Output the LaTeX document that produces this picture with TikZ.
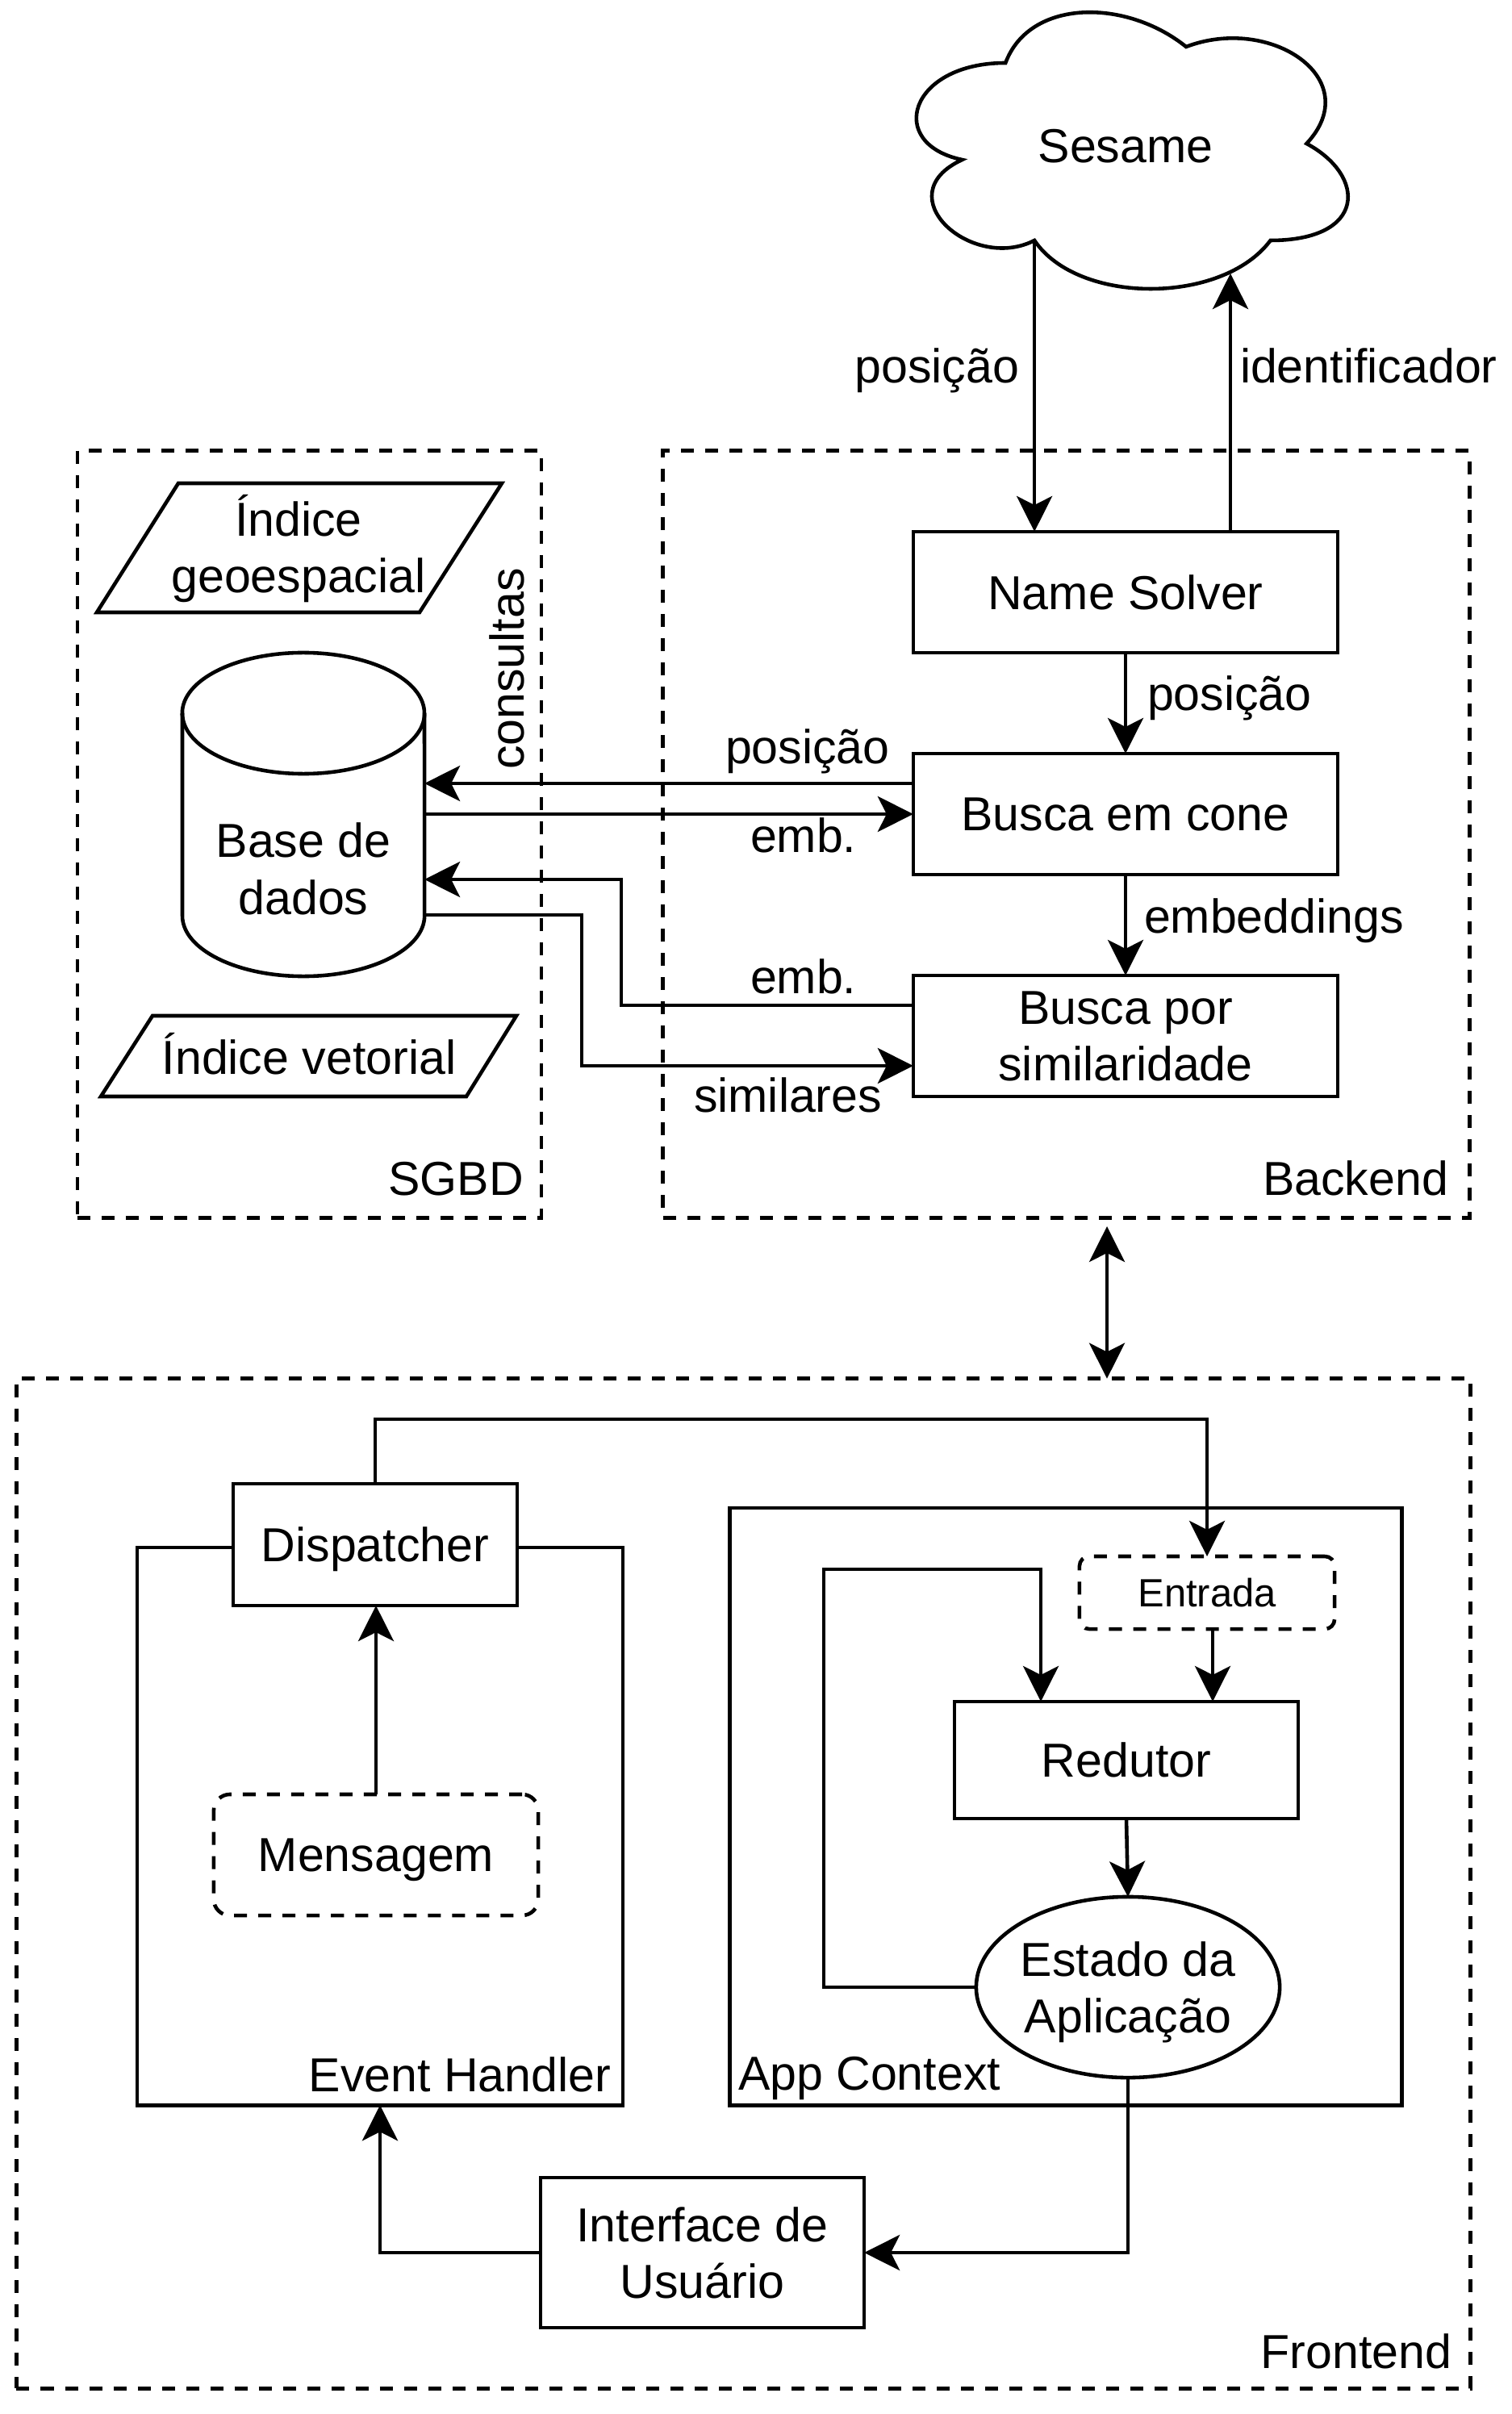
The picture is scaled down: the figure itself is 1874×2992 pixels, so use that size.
\documentclass[tikz,border=0pt]{standalone}
\usepackage{fontspec}
\setmainfont{Liberation Sans}
\usetikzlibrary{arrows.meta,shapes.geometric}
\begin{document}
\begin{tikzpicture}[x=0.01cm,y=-0.01cm,line width=1.3pt,
  every node/.style={inner sep=0pt,outer sep=0pt,font=\fontsize{16.8}{20}\selectfont},
  ctip/.tip={Stealth[length=0.44cm,width=0.44cm,inset=0.11cm]},
  arr/.style={-ctip},
  darr/.style={ctip-ctip},
  dsh/.style={dash pattern=on 0.16cm off 0.14cm},
  rbox/.style 2 args={draw,fill=white,rectangle,minimum width=#1cm,minimum height=#2cm,text depth=0pt,align=center},
  cont/.style 2 args={draw,rectangle,minimum width=#1cm,minimum height=#2cm}
]
\useasboundingbox (0,0) rectangle (1874,2992);

% containers
\node[cont={9.99}{9.5},dsh] (backend) at (1321.5,1034) {};
\node[cont={5.75}{9.5},dsh] (sgbd) at (383.5,1034) {};
\node[cont={18.01}{12.51},dsh] (frontend) at (921.5,2334.5) {};
\node[cont={6.02}{6.91}] (eh) at (471,2263.5) {};
\node[cont={8.32}{7.4}] (appctx) at (1321,2239) {};

% cloud
\draw (1246.25,78) .. controls (1126.85,78) and (1097,178) .. (1192.5,198)
  .. controls (1097,242) and (1204.5,338) .. (1282.1,298)
  .. controls (1335.8,378) and (1514.9,378) .. (1574.6,298)
  .. controls (1694,298) and (1694,218) .. (1619.4,178)
  .. controls (1694,98) and (1574.6,18) .. (1470.1,58)
  .. controls (1395.5,-2) and (1276.1,-2) .. (1246.25,78) -- cycle;
\node (cloud) at (1395,181) {Sesame};
\coordinate (cb1) at (1282.1,298);
\coordinate (cup) at (1525,339);

% backend boxes
\node[rbox={5.26}{1.5}] (ns) at (1395,734) {Name Solver};
\node[rbox={5.26}{1.5}] (bc) at (1395,1009) {Busca em cone};
\node[rbox={5.26}{1.5}] (sim) at (1395,1284) {Busca por\\similaridade};

% SGBD content
\draw (221,599) -- (622,599) -- (520,759) -- (120,759) -- cycle;
\node[align=center] (igeo) at (370,680) {Índice\\geoespacial};
\draw (189,1259) -- (640,1259) -- (578,1359) -- (125,1359) -- cycle;
\node[anchor=base] (ivet) at (383,1331) {Índice vetorial};
\draw[fill=white] (226,884) -- (226,1135) arc[start angle=180,end angle=360,x radius=1.5cm,y radius=0.75cm]
  -- (526,884) arc[start angle=0,end angle=180,x radius=1.5cm,y radius=0.75cm] -- cycle;
\draw (226,884) arc[start angle=180,end angle=360,x radius=1.5cm,y radius=0.75cm];
\node[minimum width=3cm,minimum height=4.01cm] (db) at (376,1009.5) {};
\node[align=center] (dbt) at (376,1077) {Base de\\dados};

% frontend boxes
\node[rbox={3.52}{1.51}] (disp) at (465,1914.5) {Dispatcher};
\node[rbox={4.02}{1.5},dsh,rounded corners=0.2cm] (msg) at (466,2299) {Mensagem};
\node[rbox={3.16}{0.9},dsh,rounded corners=0.12cm,font=\fontsize{13.9}{16.7}\selectfont] (ent) at (1496,1974) {Entrada};
\node[rbox={4.26}{1.45}] (red) at (1396,2181.5) {Redutor};
\node[draw,fill=white,ellipse,minimum width=3.7cm,minimum height=2.24cm,align=center,text depth=0pt] (est) at (1398,2463) {Estado da\\Aplicação};
\node[rbox={4.01}{1.86}] (ui) at (870.5,2792) {Interface de\\Usuário};

% labels
\node[anchor=base east] (lpos1) at (1263,475) {posição};
\node[anchor=base west] (lid) at (1537,475) {identificador};
\node[anchor=base west] (lpos2) at (1422,880) {posição};
\node[anchor=base west] (lemb) at (1418,1156) {embeddings};
\node[anchor=base west] (lpos3) at (899,946) {posição};
\node[anchor=base west] (lemb1) at (930,1056) {emb.};
\node[anchor=base west] (lemb2) at (930,1231) {emb.};
\node[anchor=base west] (lsim) at (860,1378) {similares};
\node[anchor=base east] (lback) at (1795,1481) {Backend};
\node[anchor=base east] (lsgbd) at (649,1481) {SGBD};
\node[anchor=base,rotate=90] (lcons) at (649,829) {consultas};
\node[anchor=base east] (leh) at (757,2592) {Event Handler};
\node[anchor=base west] (lapp) at (915,2590) {App Context};
\node[anchor=base east] (lfront) at (1799,2935) {Frontend};

% connectors
\draw[arr] (cb1) -- (cb1 |- ns.north);
\draw[arr] (ns.north -| cup) -- (cup);
\draw[arr] (ns.south) -- (bc.north);
\draw[arr] (bc.south) -- (sim.north);
\draw[arr] (bc.west |- 0,971) -- (db.east |- 0,971);
\draw[arr] (db.east |- 0,1009) -- (bc.west |- 0,1009);
\draw[arr] (sim.west |- 0,1246) -| (770,1090) -- (db.east |- 0,1090);
\draw[arr] (db.east |- 0,1134) -| (721,1321) -- (sim.west |- 0,1321);
\coordinate (bf) at (1372,1520);
\draw[darr] (bf) -- (bf |- frontend.north);
\draw[arr] (msg.north) -- (msg.north |- disp.south);
\draw[arr] (disp.north) -- ++(0,-80) -| (ent.north);
\draw[arr] (ent.south -| 1503,0) -- (red.north -| 1503,0);
\draw[arr] (est.west) -| (1021,1945) -| (red.north -| 1290,0);
\draw[arr] (red.south) -- (est.north);
\draw[arr] (est.south) |- (ui.east);
\draw[arr] (ui.west) -| (eh.south);
\end{tikzpicture}
\end{document}
